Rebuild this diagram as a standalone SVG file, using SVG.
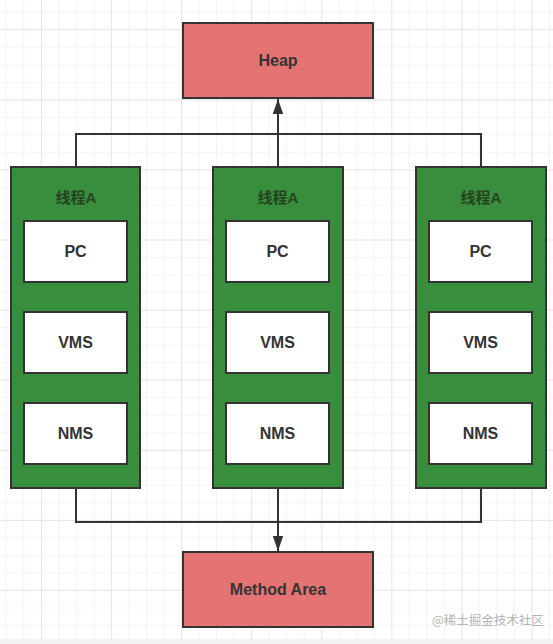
<svg xmlns="http://www.w3.org/2000/svg" width="553" height="644" viewBox="0 0 553 644">
<defs>
<pattern id="gMinor" patternUnits="userSpaceOnUse" x="5.8" y="11.7" width="17.52" height="17.52">
<path d="M0,0 V17.52 M0,0 H17.52" stroke="#ececec" stroke-width="1.2" fill="none"/>
</pattern>
<pattern id="gMajor" patternUnits="userSpaceOnUse" x="41" y="29.3" width="70.08" height="70.08">
<path d="M0,0 V70.08 M0,0 H70.08" stroke="#e0e0e0" stroke-width="1.3" fill="none"/>
</pattern>
<marker id="arrow" viewBox="0 0 15 12" refX="15" refY="6" markerWidth="15" markerHeight="12" markerUnits="userSpaceOnUse" orient="auto">
<path d="M0,0.8 L15,6 L0,11.2 Z" fill="#333333"/>
</marker>
<style>
.red{fill:#E57373;stroke:#333333;stroke-width:2}
.col{fill:#388E3C;stroke:#333333;stroke-width:2}
.box{fill:#ffffff;stroke:#333333;stroke-width:2}
.t{font-family:"Liberation Sans","Noto Sans CJK SC",sans-serif;font-weight:bold;font-size:16px;fill:#333333;text-anchor:middle}
.lbl{font-family:"Liberation Sans","Noto Sans CJK SC",sans-serif;font-weight:bold;font-size:15px;fill:#24421f;text-anchor:middle}
.conn{fill:none;stroke:#333333;stroke-width:2}
.wm{font-family:"Noto Sans CJK SC",sans-serif;font-size:12.5px;fill:#b4b4b4}
</style>
</defs>
<rect width="553" height="644" fill="#ffffff"/>
<rect width="553" height="644" fill="url(#gMinor)"/>
<rect width="553" height="644" fill="url(#gMajor)"/>
<rect x="0" y="639" width="553" height="5" fill="#f3f3f3"/>

<g id="connectors">
<path class="conn" d="M76,167 V134 H481 V167"/>
<path class="conn" d="M278,167 V99" marker-end="url(#arrow)"/>
<path class="conn" d="M76,488 V522 H481 V488"/>
<path class="conn" d="M278,488 V551" marker-end="url(#arrow)"/>
</g>

<g id="heap">
<rect class="red" x="183" y="23" width="190" height="75"/>
<text class="t" x="278" y="66">Heap</text>
</g>

<g id="method-area">
<rect class="red" x="183" y="552" width="190" height="75"/>
<text class="t" x="278" y="595">Method Area</text>
</g>

<g id="thread-1">
<rect class="col" x="11" y="167" width="129" height="321"/>
<text class="lbl" x="76" y="203">线程A</text>
<g id="thread-1-pc"><rect class="box" x="24" y="221" width="103" height="61"/><text class="t" x="75.5" y="257">PC</text></g>
<g id="thread-1-vms"><rect class="box" x="24" y="312" width="103" height="61"/><text class="t" x="75.5" y="348">VMS</text></g>
<g id="thread-1-nms"><rect class="box" x="24" y="403" width="103" height="61"/><text class="t" x="75.5" y="439">NMS</text></g>
</g>

<g id="thread-2">
<rect class="col" x="213" y="167" width="130" height="321"/>
<text class="lbl" x="278" y="203">线程A</text>
<g id="thread-2-pc"><rect class="box" x="226" y="221" width="103" height="61"/><text class="t" x="277.5" y="257">PC</text></g>
<g id="thread-2-vms"><rect class="box" x="226" y="312" width="103" height="61"/><text class="t" x="277.5" y="348">VMS</text></g>
<g id="thread-2-nms"><rect class="box" x="226" y="403" width="103" height="61"/><text class="t" x="277.5" y="439">NMS</text></g>
</g>

<g id="thread-3">
<rect class="col" x="416" y="167" width="130" height="321"/>
<text class="lbl" x="481" y="203">线程A</text>
<g id="thread-3-pc"><rect class="box" x="429" y="221" width="103" height="61"/><text class="t" x="480.5" y="257">PC</text></g>
<g id="thread-3-vms"><rect class="box" x="429" y="312" width="103" height="61"/><text class="t" x="480.5" y="348">VMS</text></g>
<g id="thread-3-nms"><rect class="box" x="429" y="403" width="103" height="61"/><text class="t" x="480.5" y="439">NMS</text></g>
</g>

<text class="wm" x="432" y="625">@稀土掘金技术社区</text>
</svg>
